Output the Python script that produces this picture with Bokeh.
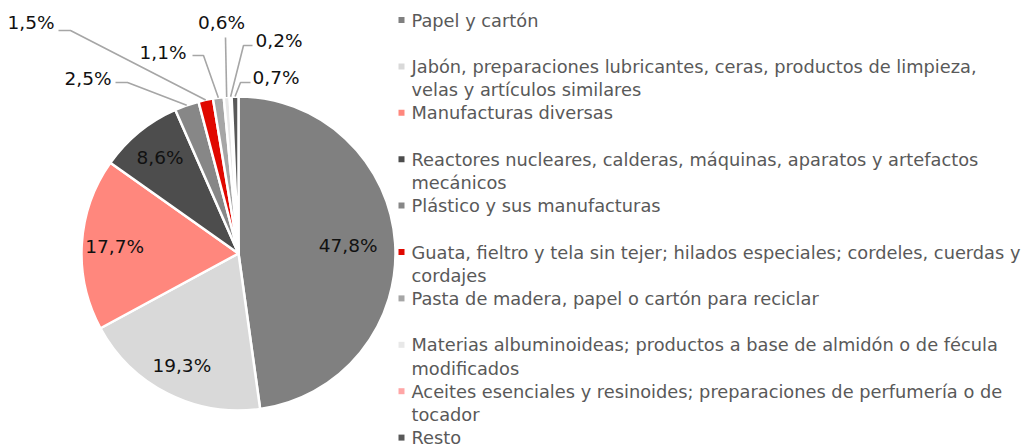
import math
from bokeh.plotting import figure
from bokeh.models import Range1d, ColumnDataSource
from bokeh.core.properties import value
from bokeh.embed import file_html
from bokeh.resources import INLINE

# ---------------- data ----------------
categories = [
    "Papel y cartón",
    "Jabón, preparaciones lubricantes, ceras, productos de limpieza,\nvelas y artículos similares",
    "Manufacturas diversas",
    "Reactores nucleares, calderas, máquinas, aparatos y artefactos\nmecánicos",
    "Plástico y sus manufacturas",
    "Guata, fieltro y tela sin tejer; hilados especiales; cordeles, cuerdas y\ncordajes",
    "Pasta de madera, papel o cartón para reciclar",
    "Materias albuminoideas; productos a base de almidón o de fécula\nmodificados",
    "Aceites esenciales y resinoides; preparaciones de perfumería o de\ntocador",
    "Resto",
]
shares = [47.8, 19.3, 17.7, 8.6, 2.5, 1.5, 1.1, 0.6, 0.2, 0.7]
labels = ["47,8%", "19,3%", "17,7%", "8,6%", "2,5%", "1,5%", "1,1%", "0,6%", "0,2%", "0,7%"]
colors = ["#808080", "#D9D9D9", "#FF877D", "#4D4D4D", "#878787",
          "#E00800", "#A6A6A6", "#E8E8E8", "#FFA6A6", "#595959"]

# ---------------- layout / style ----------------
W, H = 1030, 448
FONT = "DejaVu Sans"
CX, CY, R = 238, 253, 157          # pie centre / radius in page pixels
inner_r = [0.70, 0.80, 0.79, 0.79]  # radial factors for inside labels
# outside labels: (text x, text y, align, [elbow points])
outside = {
    4: (111, 78, "right", [(115, 82), (127, 82)]),
    5: (54, 22, "right", [(58, 30), (70, 30)]),
    6: (186, 52, "right", [(192, 55), (203, 55)]),
    7: (221, 22, "center", [(225, 37)]),
    8: (255, 40, "left", [(252, 45), (243, 45)]),
    9: (252, 77, "left", [(250, 82), (240, 82)]),
}


def Y(py):
    return H - py


p = figure(width=W, height=H, output_backend="svg", toolbar_location=None,
           x_range=Range1d(0, W), y_range=Range1d(0, H), min_border=0)
p.axis.visible = False
p.grid.visible = False
p.outline_line_color = None
p.background_fill_color = "white"
p.border_fill_color = "white"

# ---------------- pie ----------------
total = sum(shares)
starts, ends, mids = [], [], []
cum = 0.0
for v in shares:
    a0 = math.pi / 2 - 2 * math.pi * cum / total
    a1 = math.pi / 2 - 2 * math.pi * (cum + v) / total
    starts.append(a0)
    ends.append(a1)
    mids.append((a0 + a1) / 2)
    cum += v

src = ColumnDataSource(dict(x=[CX] * len(shares), y=[Y(CY)] * len(shares),
                            start=starts, end=ends, color=colors))
p.wedge(x="x", y="y", radius=R, radius_units="screen", start_angle="start",
        end_angle="end", direction="clock", fill_color="color",
        line_color="white", line_width=2.5, source=src)

# inside labels
for i, f in enumerate(inner_r):
    lx = CX + f * R * math.cos(mids[i])
    ly = CY - f * R * math.sin(mids[i])
    p.text(x=[lx], y=[Y(ly)], text=[labels[i]], text_align="center",
           text_baseline="middle", text_font=value(FONT),
           text_font_size="18.5px", text_color="#111111")

# outside labels with leader lines
for i, (tx, ty, align, elbows) in outside.items():
    ex = CX + R * math.cos(mids[i])
    ey = CY - R * math.sin(mids[i])
    xs = [pt[0] for pt in elbows] + [ex]
    ys = [Y(pt[1]) for pt in elbows] + [Y(ey)]
    p.line(xs, ys, line_color="#A6A6A6", line_width=1.6)
    p.text(x=[tx], y=[Y(ty)], text=[labels[i]], text_align=align,
           text_baseline="middle", text_font=value(FONT),
           text_font_size="18.5px", text_color="#111111")

# ---------------- legend ----------------
LEG_X, LEG_Y0, ENTRY_H, LINE_H = 401, 19.5, 46.4, 23.2
for i, name in enumerate(categories):
    y0 = LEG_Y0 + ENTRY_H * i
    p.rect(x=[LEG_X], y=[Y(y0)], width=6, height=6, width_units="screen",
           height_units="screen", fill_color=colors[i], line_color=None)
    for j, line in enumerate(name.split("\n")):
        p.text(x=[LEG_X + 10], y=[Y(y0 + j * LINE_H)], text=[line],
               text_align="left", text_baseline="middle",
               text_font=value(FONT), text_font_size="17.8px",
               text_color="#595959")

open("out.html", "w").write(file_html(p, INLINE))
